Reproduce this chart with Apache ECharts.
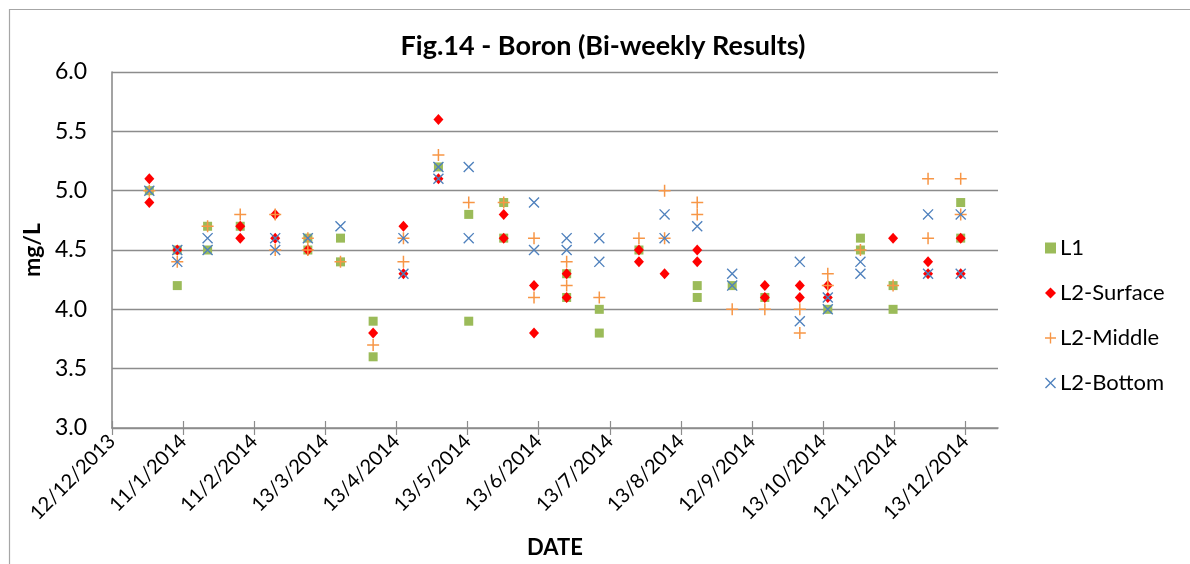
<!DOCTYPE html>
<html>
<head>
<meta charset="utf-8">
<script src="https://cdn.jsdelivr.net/npm/echarts@6/dist/echarts.min.js"></script>
<style>
html,body{margin:0;padding:0;background:#fff;}
#chart{width:1190px;height:564px;}
</style>
</head>
<body>
<div id="chart"></div>
<script>
// ---- data ----
const sampleDates = ['2013-12-28','2014-01-09','2014-01-22','2014-02-05','2014-02-20','2014-03-06','2014-03-20','2014-04-03','2014-04-16','2014-05-01','2014-05-14','2014-05-29','2014-06-11','2014-06-25','2014-07-09','2014-07-26','2014-08-06','2014-08-20','2014-09-04','2014-09-18','2014-10-03','2014-10-15','2014-10-29','2014-11-12','2014-11-27','2014-12-11'];
const seriesNames = ['L1','L2-Surface','L2-Middle','L2-Bottom'];
const l1 = [[5.0],[4.5,4.2],[4.7,4.5],[4.7],[],[4.6,4.5],[4.6,4.4],[3.9,3.6],[],[5.2],[4.8,3.9],[4.9,4.6],[],[4.3,4.1],[4.0,3.8],[4.5],[],[4.2,4.1],[4.2],[4.1],[],[4.0],[4.6,4.5],[4.2,4.0],[],[4.9,4.6]];
const l2Surface = [[5.1,4.9],[4.5],[],[4.7,4.6],[4.8,4.6],[4.5],[],[3.8],[4.7,4.3],[5.6,5.1],[],[4.8,4.6],[4.2,3.8],[4.3,4.1],[],[4.5,4.4],[4.3],[4.5,4.4],[],[4.2,4.1],[4.2,4.1],[4.2,4.1],[],[4.6],[4.4,4.3],[4.6,4.3]];
const l2Middle = [[5.0],[4.4],[4.7],[4.8],[4.8,4.5],[4.6,4.5],[4.4],[3.7],[4.6,4.4],[5.3],[4.9],[4.9],[4.6,4.1],[4.4,4.2],[4.1],[4.6],[5.0,4.6],[4.9,4.8],[4.0],[4.0],[4.0,3.8],[4.3,4.2],[4.5],[4.2],[5.1,4.6],[5.1,4.8]];
const l2Bottom = [[5.0],[4.5,4.4],[4.6,4.5],[],[4.6,4.5],[4.6],[4.7],[],[4.6,4.3],[5.2,5.1],[5.2,4.6],[],[4.9,4.5],[4.6,4.5],[4.6,4.4],[],[4.8,4.6],[4.7],[4.3,4.2],[],[4.4,3.9],[4.1,4.0],[4.4,4.3],[],[4.8,4.3],[4.8,4.3]];
const xTickLabels = ['12/12/2013','11/1/2014','11/2/2014','13/3/2014','13/4/2014','13/5/2014','13/6/2014','13/7/2014','13/8/2014','12/9/2014','13/10/2014','12/11/2014','13/12/2014'];
const yTickLabels = ['3.0','3.5','4.0','4.5','5.0','5.5','6.0'];

// ---- helpers ----
const START = Date.UTC(2013, 11, 12);
const DAY = 86400000;
const TICK_STEP = 30.5; // days between date-axis ticks
function dayOf(s) {
  const p = s.split('-').map(Number);
  return (Date.UTC(p[0], p[1] - 1, p[2]) - START) / DAY;
}
function toPoints(arr) {
  const out = [];
  arr.forEach((vals, i) => vals.forEach(v => out.push([dayOf(sampleDates[i]), v])));
  return out;
}
const PLUS = 'path://M5.25,0H6.75V12H5.25Z M0,5.25H12V6.75H0Z';
const CROSS = 'path://M0,1.06L1.06,0L12,10.94L10.94,12Z M10.94,0L12,1.06L1.06,12L0,10.94Z';

const FONT = 'Lato, "Open Sans", sans-serif';
const gridColor = '#8c8c8c';
const tickValues = xTickLabels.map((_, i) => i * TICK_STEP);

const chart = echarts.init(document.getElementById('chart'), null, {renderer: 'canvas'});
const baseX = {
  type: 'value', min: 0, max: 380,
  splitLine: {show: false}
};
chart.setOption({
  animation: false,
  backgroundColor: '#fff',
  textStyle: {fontFamily: FONT},
  graphic: [{
    type: 'rect', left: 7, top: 7, silent: true,
    shape: {x: 0, y: 0, width: 1200, height: 600},
    style: {fill: 'none', stroke: '#a6a6a6', lineWidth: 1.2}
  }],
  title: {
    text: 'Fig.14 - Boron (Bi-weekly Results)',
    left: 598, top: 28, textAlign: 'center',
    textStyle: {fontFamily: FONT, fontWeight: 'bold', fontSize: 27, color: '#000'}
  },
  legend: {
    orient: 'vertical', left: 1040, top: 232,
    itemWidth: 11, itemHeight: 11, itemGap: 23,
    data: seriesNames,
    textStyle: {fontFamily: FONT, fontSize: 22, color: '#000', padding: [0, 0, 0, -1]}
  },
  grid: {left: 112, right: 192, top: 72, bottom: 136, containLabel: false, outerBoundsMode: 'none'},
  xAxis: [Object.assign({}, baseX, {
    name: 'DATE', nameLocation: 'middle', nameGap: 109,
    nameTextStyle: {fontFamily: FONT, fontWeight: 'bold', fontSize: 22, color: '#000'},
    axisLine: {show: true, lineStyle: {color: gridColor, width: 1.6}},
    axisTick: {show: true, length: 7, customValues: tickValues, lineStyle: {color: gridColor, width: 1.2}},
    axisLabel: {
      customValues: tickValues, rotate: 45, margin: 10,
      fontFamily: FONT, fontSize: 20, color: '#000',
      formatter: v => xTickLabels[Math.round(v / TICK_STEP)] || ''
    }
  }), Object.assign({}, baseX, {
    position: 'bottom',
    axisLine: {show: false},
    axisTick: {show: true, inside: true, length: 7, customValues: tickValues, lineStyle: {color: gridColor, width: 1.2}},
    axisLabel: {show: false}
  })],
  yAxis: {
    type: 'value', min: 3, max: 6, interval: 0.5,
    name: 'mg/L', nameLocation: 'middle', nameGap: 64,
    nameTextStyle: {fontFamily: FONT, fontWeight: 'bold', fontSize: 23, color: '#000'},
    axisLine: {show: true, lineStyle: {color: gridColor, width: 1.6}},
    axisTick: {show: false},
    splitLine: {show: true, lineStyle: {color: gridColor, width: 1.4}},
    axisLabel: {
      margin: 25, fontFamily: FONT, fontSize: 23, color: '#000',
      formatter: v => yTickLabels[Math.round((v - 3) / 0.5)]
    }
  },
  series: [
    {name: 'L1', type: 'scatter', data: toPoints(l1), symbol: 'rect', symbolSize: 9,
     itemStyle: {color: '#9bbb59', opacity: 1}},
    {name: 'L2-Surface', type: 'scatter', data: toPoints(l2Surface), symbol: 'diamond', symbolSize: [10, 11],
     itemStyle: {color: '#ff0000', opacity: 1}},
    {name: 'L2-Middle', type: 'scatter', data: toPoints(l2Middle), symbol: PLUS, symbolSize: 12,
     itemStyle: {color: '#f79646', opacity: 1}},
    {name: 'L2-Bottom', type: 'scatter', data: toPoints(l2Bottom), symbol: CROSS, symbolSize: 11,
     itemStyle: {color: '#4f81bd', opacity: 1}}
  ]
});
</script>
</body>
</html>
